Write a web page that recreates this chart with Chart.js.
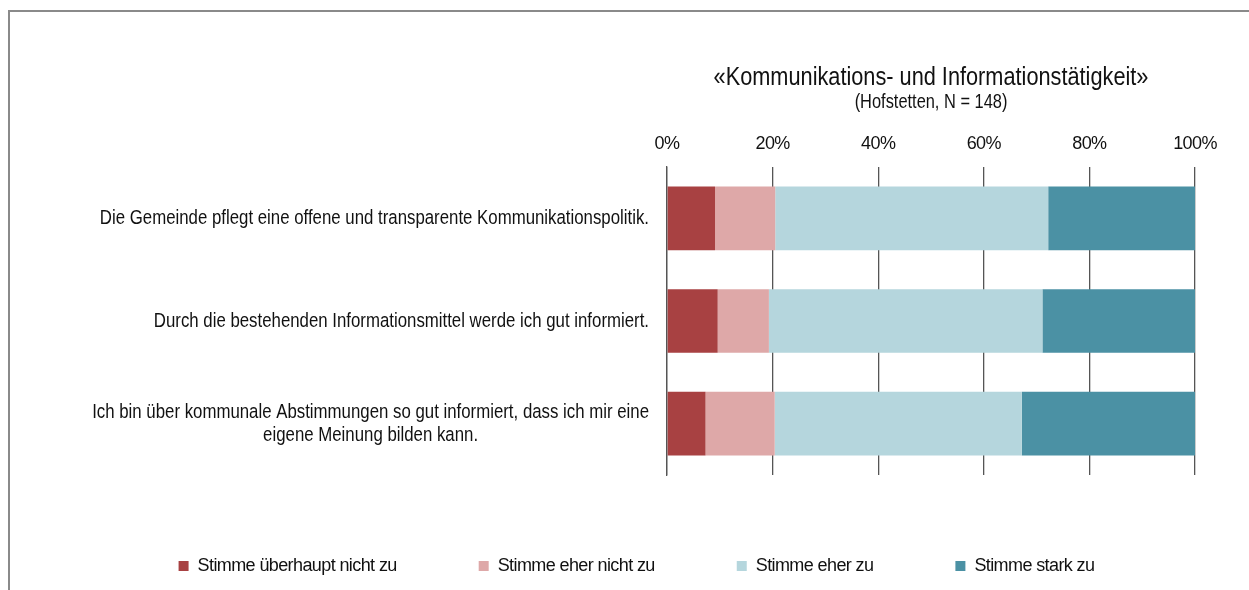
<!DOCTYPE html>
<html>
<head>
<meta charset="utf-8">
<script src="https://cdn.jsdelivr.net/npm/chart.js@4"></script>
<style>
  body { margin: 0; background: #fff; }
  #frame { position: absolute; left: 8px; top: 10px; width: 1300px; height: 700px;
    border-top: 2px solid #8a8a8a; border-left: 2px solid #8a8a8a; }
  #wrap { position: absolute; left: 0; top: 0; width: 1249px; height: 590px; }
</style>
</head>
<body>
<div id="frame"></div>
<div id="wrap"><canvas id="chart"></canvas></div>
<script>
const categories = [
  'Die Gemeinde pflegt eine offene und transparente Kommunikationspolitik.',
  'Durch die bestehenden Informationsmittel werde ich gut informiert.',
  'Ich bin über kommunale Abstimmungen so gut informiert, dass ich mir eine\neigene Meinung bilden kann.',
];
const seriesNames = ['Stimme überhaupt nicht zu', 'Stimme eher nicht zu', 'Stimme eher zu', 'Stimme stark zu'];
const gar_nicht = [9.1, 9.6, 7.3];
const eher_nicht = [11.4, 9.7, 13.1];
const eher_zu = [51.7, 51.8, 46.8];
const stark_zu = [27.8, 28.9, 32.8];
const xTicks = [0, 20, 40, 60, 80, 100];
const colors = ['#a84142', '#dea8a8', '#b5d6dd', '#4b91a4'];

const FONT = "'Liberation Sans', Arial, sans-serif";
const NARROW = 0.82; // Arial Narrow nachahmen

// schmal gezeichneter Text
function narrowText(ctx, text, x, y) {
  ctx.save();
  ctx.scale(NARROW, 1);
  ctx.fillText(text, x / NARROW, y);
  ctx.restore();
}

// Buchstabenabstand für die Texte von Chart.js (Achse, Legende)
const spacingPlugin = {
  id: 'spacing',
  beforeLayout(chart) { chart.ctx.letterSpacing = '-0.6px'; },
  beforeDraw(chart) { chart.ctx.letterSpacing = '-0.6px'; },
};

// Titel und Kategorien selbst zeichnen
const textPlugin = {
  id: 'texte',
  afterDraw(chart) {
    const ctx = chart.ctx;
    const area = chart.chartArea;
    const cx = (area.left + area.right) / 2;
    ctx.save();
    ctx.letterSpacing = '0px';
    ctx.fillStyle = '#111';
    ctx.textAlign = 'center';
    ctx.textBaseline = 'middle';
    ctx.font = '26.5px ' + FONT;
    narrowText(ctx, '«Kommunikations- und Informationstätigkeit»', cx, 78);
    ctx.font = '20px ' + FONT;
    narrowText(ctx, '(Hofstetten, N = 148)', cx, 102);

    // Kategorien links, Block rechtsbündig, Zeilen zentriert
    const yScale = chart.scales.y;
    ctx.font = '20.5px ' + FONT;
    categories.forEach((label, i) => {
      const lines = label.split('\n');
      const w = NARROW * Math.max(...lines.map((l) => ctx.measureText(l).width));
      const right = area.left - 18;
      const yc = yScale.getPixelForValue(i);
      const lh = 23.5;
      lines.forEach((l, j) => {
        narrowText(ctx, l, right - w / 2, yc + (j - (lines.length - 1) / 2) * lh);
      });
    });
    ctx.restore();
  },
};

const ctx = document.getElementById('chart').getContext('2d');
new Chart(ctx, {
  type: 'bar',
  data: {
    labels: categories,
    datasets: [gar_nicht, eher_nicht, eher_zu, stark_zu].map((d, i) => ({
      label: seriesNames[i],
      data: d,
      backgroundColor: colors[i],
      borderWidth: 0,
      categoryPercentage: 1,
      barPercentage: 0.62,
    })),
  },
  options: {
    indexAxis: 'y',
    responsive: true,
    maintainAspectRatio: false,
    animation: false,
    layout: { padding: { top: 116, left: 24, right: 0, bottom: 5 } },
    scales: {
      x: {
        position: 'top',
        stacked: true,
        min: 0,
        max: 100,
        afterBuildTicks(scale) { scale.ticks = xTicks.map((v) => ({ value: v })); },
        ticks: {
          callback: (v) => v + '%',
          color: '#111',
          padding: 12,
          font: { family: FONT, size: 18 },
        },
        grid: { color: '#555', lineWidth: 1.3, drawTicks: false },
        border: { display: false },
        afterFit(scale) {
          scale.height = 51;
          scale.paddingRight = 54;
        },
      },
      y: {
        stacked: true,
        ticks: { display: false },
        grid: { display: false },
        border: { display: true, color: '#555', width: 1.3 },
        afterFit(scale) { scale.width = 667 - 24; },
      },
    },
    plugins: {
      tooltip: { enabled: false },
      title: { display: false },
      legend: {
        position: 'bottom',
        labels: {
          boxWidth: 10,
          boxHeight: 10,
          padding: 82,
          color: '#111',
          font: { family: FONT, size: 18 },
        },
      },
    },
  },
  plugins: [spacingPlugin, textPlugin],
});
</script>
</body>
</html>
